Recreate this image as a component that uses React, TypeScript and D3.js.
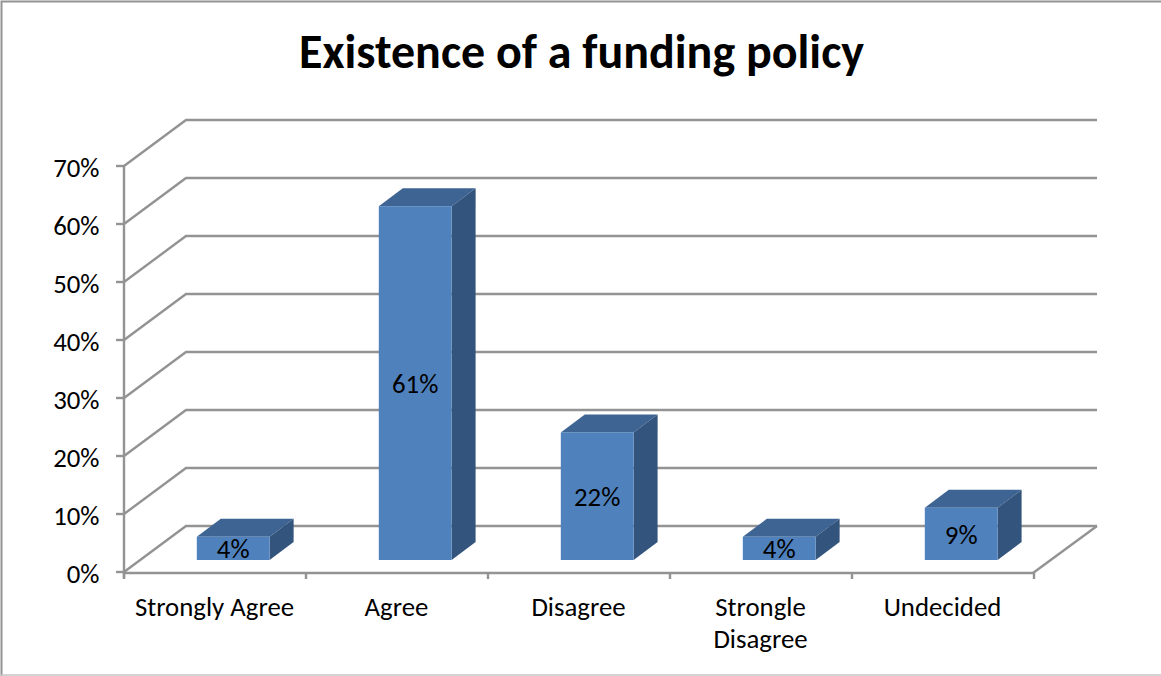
import React from "react";
import * as d3 from "d3";

const categories: string[][] = [["Strongly Agree"], ["Agree"], ["Disagree"], ["Strongle", "Disagree"], ["Undecided"]];
const values: number[] = [4, 61, 22, 4, 9];
const valueLabels: string[] = ["4%", "61%", "22%", "4%", "9%"];
const yTicks: number[] = [0, 10, 20, 30, 40, 50, 60, 70];
const titleText = "Existence of a funding policy";

const WIDTH = 1161;
const HEIGHT = 676;
const FONT = "Carlito, Lato, 'Open Sans', sans-serif";
const AXIS = "#939393";
const LABEL_SIZE = 26.8;

// Oblique projection of the chart's floor and walls.
const wallDx = 62;
const wallDy = 46;
const barDx = 24;
const barDy = 18;
const floorLift = 12;

const x = d3.scaleBand<number>().domain(d3.range(categories.length)).range([124, 1034]).paddingInner(0);
const y = d3.scaleLinear().domain([0, 70]).range([572, 166]);
const barWidth = x.bandwidth() * 0.4;
const barOffset = x.bandwidth() * 0.4;

const linePath = d3.line<[number, number]>();

export default function App() {
  const base = y(0) - floorLift;
  return (
    <svg
      width={WIDTH}
      height={HEIGHT}
      viewBox={`0 0 ${WIDTH} ${HEIGHT}`}
      style={{ position: "absolute", left: 0, top: 0, background: "#fff" }}
      fontFamily={FONT}
    >
      <path d={`M1.5,676V1.5H1161`} fill="none" stroke={AXIS} strokeWidth={2} />
      <line x1={0} x2={1161} y1={675} y2={675} stroke="#c4c4c4" strokeWidth={1.5} />

      <text x={581.5} y={68} textAnchor="middle" fontSize={48} fontWeight={700} fill="#000">
        {titleText}
      </text>

      {/* Back wall gridlines with their diagonals along the side wall */}
      {yTicks.map((t) => (
        <path
          key={t}
          d={
            linePath([
              [x.range()[0], y(t)],
              [x.range()[0] + wallDx, y(t) - wallDy],
              [x.range()[1] + wallDx + 1, y(t) - wallDy],
            ]) as string
          }
          fill="none"
          stroke={AXIS}
          strokeWidth={2.4}
        />
      ))}
      <path
        d={
          linePath([
            [x.range()[1] - 1, y(0) + 1],
            [x.range()[1] + wallDx + 1, y(0) - wallDy],
          ]) as string
        }
        fill="none"
        stroke={AXIS}
        strokeWidth={2.4}
      />

      {/* Axes */}
      <line x1={124} x2={124} y1={y(70)} y2={y(0) + 6} stroke={AXIS} strokeWidth={2.4} />
      <line x1={124} x2={1033} y1={y(0) + 1} y2={y(0) + 1} stroke={AXIS} strokeWidth={2.4} />
      {yTicks.map((t) => (
        <g key={t}>
          <line x1={116} x2={124} y1={y(t)} y2={y(t)} stroke={AXIS} strokeWidth={2.4} />
          <text x={99.5} y={y(t) + 2} dy="0.35em" fontSize={LABEL_SIZE} textAnchor="end" fill="#000">
            {t}%
          </text>
        </g>
      ))}
      {d3.range(categories.length + 1).map((i) => {
        const tx = 124 + i * x.bandwidth();
        return <line key={i} x1={tx} x2={tx} y1={y(0)} y2={y(0) + 7} stroke={AXIS} strokeWidth={2.4} />;
      })}
      {categories.map((lines, i) => (
        <text key={i} textAnchor="middle" fontSize={LABEL_SIZE} fill="#000">
          {lines.map((l, j) => (
            <tspan key={j} x={(x(i) as number) + x.bandwidth() / 2 - 0.5} y={616 + j * 32}>
              {l}
            </tspan>
          ))}
        </text>
      ))}

      {/* Bars */}
      {values.map((v, i) => {
        const x0 = (x(i) as number) + barOffset;
        const x1 = x0 + barWidth;
        const top = base - (y(0) - y(v));
        return (
          <g key={i}>
            <polygon
              points={`${x0},${top} ${x0 + barDx},${top - barDy} ${x1 + barDx},${top - barDy} ${x1},${top}`}
              fill="#3e6493"
            />
            <polygon
              points={`${x1},${top} ${x1 + barDx},${top - barDy} ${x1 + barDx},${base - barDy} ${x1},${base}`}
              fill="#33547d"
            />
            <rect x={x0} y={top} width={barWidth} height={base - top} fill="#4f81bd" />
            <text
              x={(x0 + x1) / 2}
              y={(top + base) / 2 + 0.5}
              dy="0.35em"
              textAnchor="middle"
              fontSize={LABEL_SIZE}
              fill="#000"
            >
              {valueLabels[i]}
            </text>
          </g>
        );
      })}
    </svg>
  );
}
